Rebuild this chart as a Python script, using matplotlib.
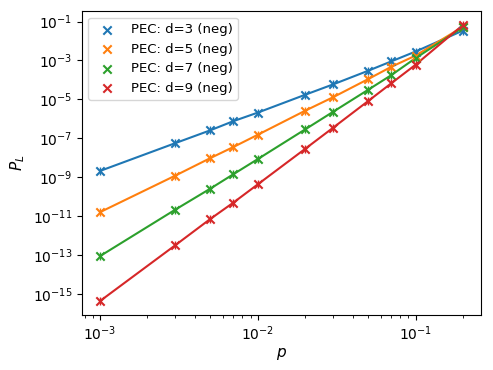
import matplotlib
matplotlib.use("Agg")
import matplotlib.pyplot as plt
import numpy as np

p = [0.001, 0.003, 0.005, 0.007, 0.01, 0.02, 0.03, 0.05, 0.07, 0.1, 0.2]

# log10 of logical error rate
logPL_d3 = [-8.68, -7.25, -6.59, -6.12, -5.68, -4.76, -4.23, -3.53, -3.05, -2.54, -1.46]
logPL_d5 = [-10.80, -8.92, -8.02, -7.45, -6.82, -5.58, -4.89, -3.96, -3.33, -2.75, -1.26]
logPL_d7 = [-13.06, -10.67, -9.59, -8.85, -8.07, -6.54, -5.64, -4.51, -3.76, -2.88, -1.29]
logPL_d9 = [-15.37, -12.50, -11.15, -10.31, -9.37, -7.54, -6.46, -5.09, -4.18, -3.22, -1.17]

labels = ["PEC: d=3 (neg)", "PEC: d=5 (neg)", "PEC: d=7 (neg)", "PEC: d=9 (neg)"]
colors = ["C0", "C1", "C2", "C3"]

fig = plt.figure(figsize=(4.93, 3.70), dpi=100)
ax = fig.add_axes([0.166, 0.149, 0.81, 0.821])

for logs, lab, c in zip([logPL_d3, logPL_d5, logPL_d7, logPL_d9], labels, colors):
    y = 10.0 ** np.array(logs)
    ax.scatter(p, y, marker="x", color=c, label=lab, zorder=3)
    ax.plot(p, y, color=c, marker="|", markersize=6, zorder=2)

ax.set_xscale("log")
ax.set_yscale("log")
ax.set_xlabel("$p$", fontsize=11, labelpad=2)
ax.set_ylabel("$P_L$", fontsize=11)
ax.legend(loc="upper left", fontsize=9.5)

fig.savefig("out.png", dpi=100)
